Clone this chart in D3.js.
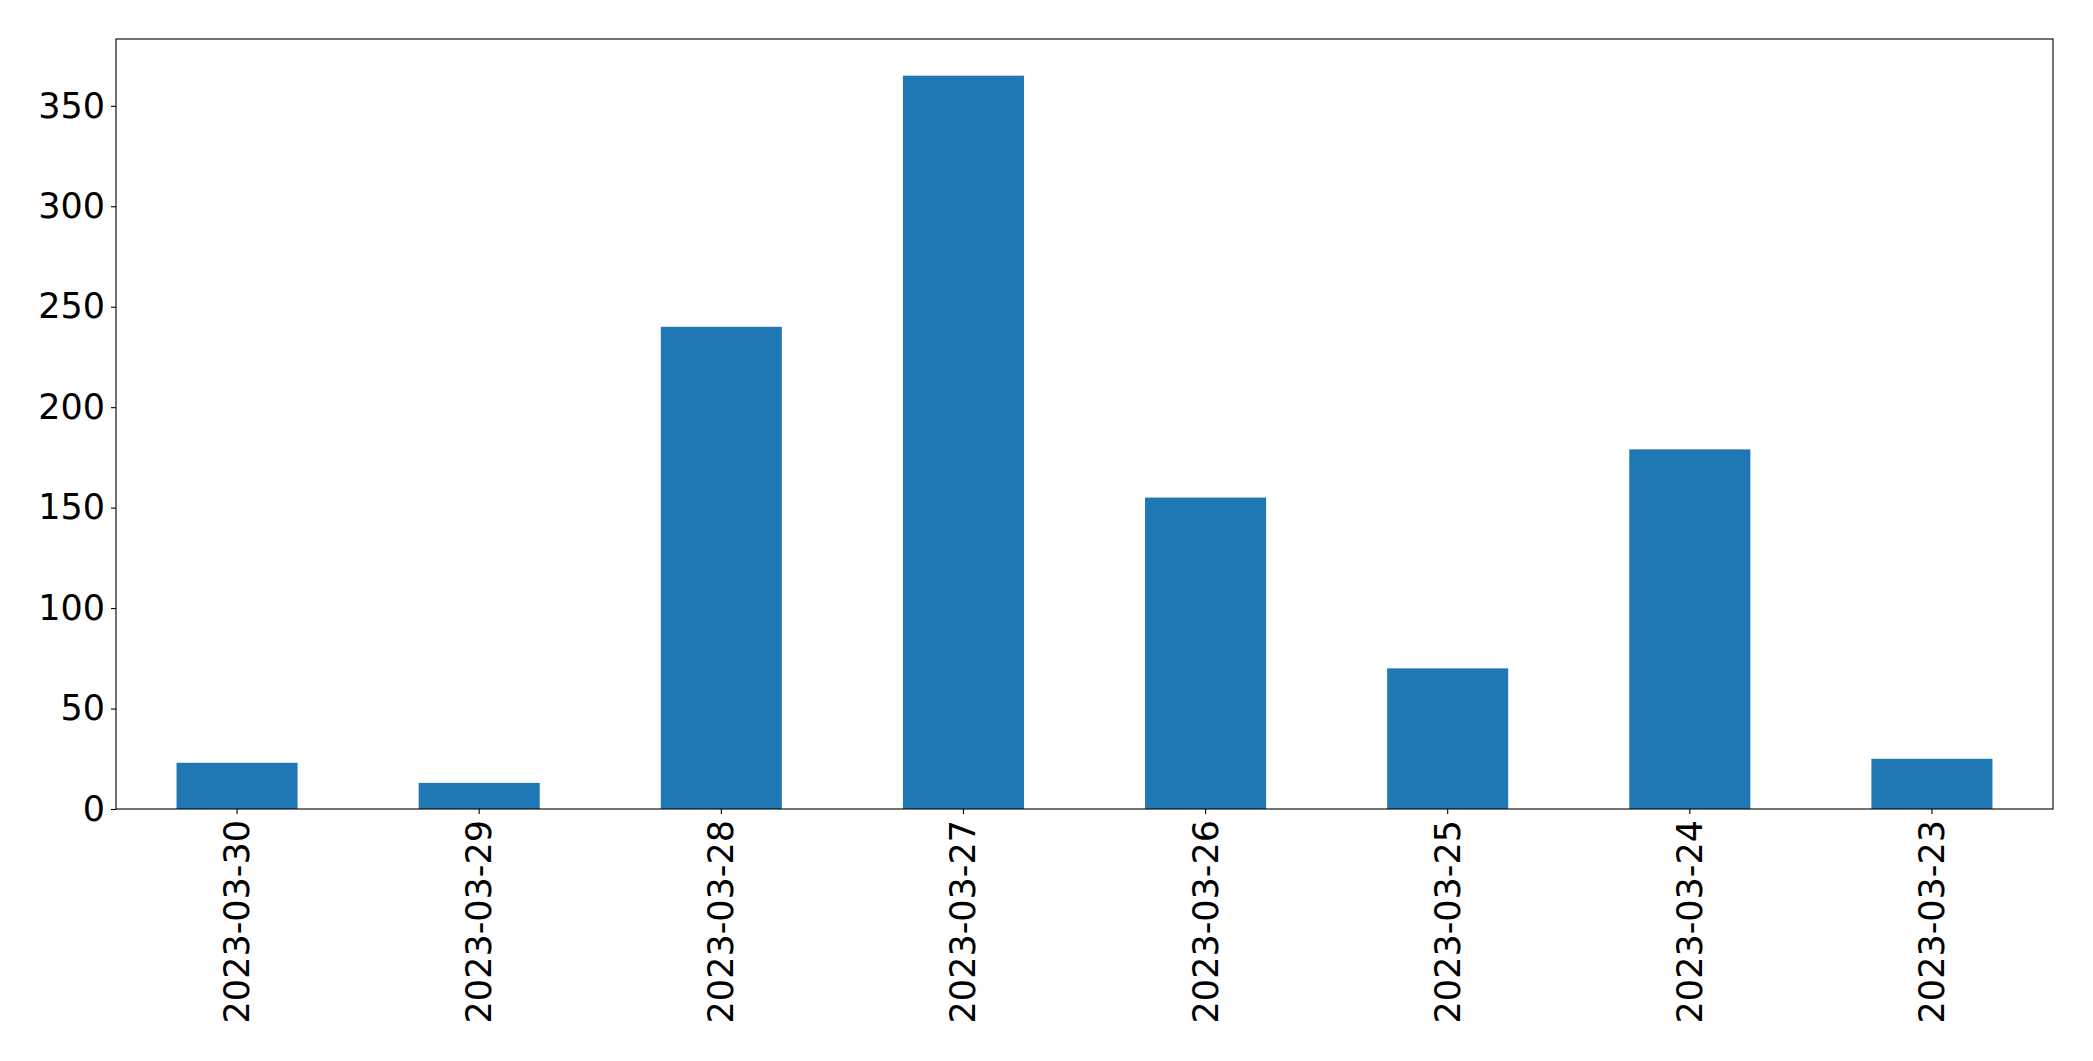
<!DOCTYPE html>
<html><head><meta charset="utf-8">
<script src="https://cdn.jsdelivr.net/npm/d3@7"></script>
<style>body{margin:0;background:#fff}svg{display:block}</style>
</head><body>
<svg id="chart" width="2093" height="1061"></svg>
<script>
const categories = ["2023-03-30","2023-03-29","2023-03-28","2023-03-27","2023-03-26","2023-03-25","2023-03-24","2023-03-23"];
const values = [23, 13, 240, 365, 155, 70, 179, 25];
const yTicks = [0, 50, 100, 150, 200, 250, 300, 350];

const W = 2093, H = 1061;
const m = {left: 116, right: 2093 - 2053, top: 39, bottom: H - 809};
const svg = d3.select("#chart");
const x = d3.scaleBand().domain(categories).range([m.left, W - m.right]).paddingInner(0.5).paddingOuter(0.25);
const y = d3.scaleLinear().domain([0, d3.max(values) * 1.05]).range([H - m.bottom, m.top]);
const font = "DejaVu Sans, sans-serif";
const fs = 35;

svg.append("g").selectAll("rect").data(values).join("rect")
  .attr("x", (d, i) => x(categories[i]))
  .attr("width", x.bandwidth())
  .attr("y", d => y(d))
  .attr("height", d => y(0) - y(d))
  .attr("fill", "#1f77b4");

const yAxis = svg.append("g").attr("transform", `translate(${m.left},0)`)
  .call(d3.axisLeft(y).tickValues(yTicks).tickSize(5).tickPadding(6).tickFormat(d3.format("d")));
yAxis.select(".domain").remove();
yAxis.selectAll("line").attr("stroke", "#000").attr("stroke-width", 1.1);
yAxis.selectAll("text").attr("font-family", font).attr("font-size", fs).attr("fill", "#000");

const xAxis = svg.append("g").attr("transform", `translate(0,${H - m.bottom})`)
  .call(d3.axisBottom(x).tickSize(5).tickPadding(6));
xAxis.select(".domain").remove();
xAxis.selectAll("line").attr("stroke", "#000").attr("stroke-width", 1.1);
xAxis.selectAll("text")
  .attr("font-family", font).attr("font-size", fs).attr("fill", "#000")
  .attr("text-anchor", "end").attr("dy", null)
  .attr("dominant-baseline", "central")
  .attr("transform", "translate(0,11) rotate(-90)")
  .attr("y", 0).attr("x", 0);

svg.append("rect")
  .attr("x", m.left).attr("y", m.top)
  .attr("width", W - m.left - m.right).attr("height", H - m.top - m.bottom)
  .attr("fill", "none").attr("stroke", "#000").attr("stroke-width", 1.1);
</script>
</body></html>
